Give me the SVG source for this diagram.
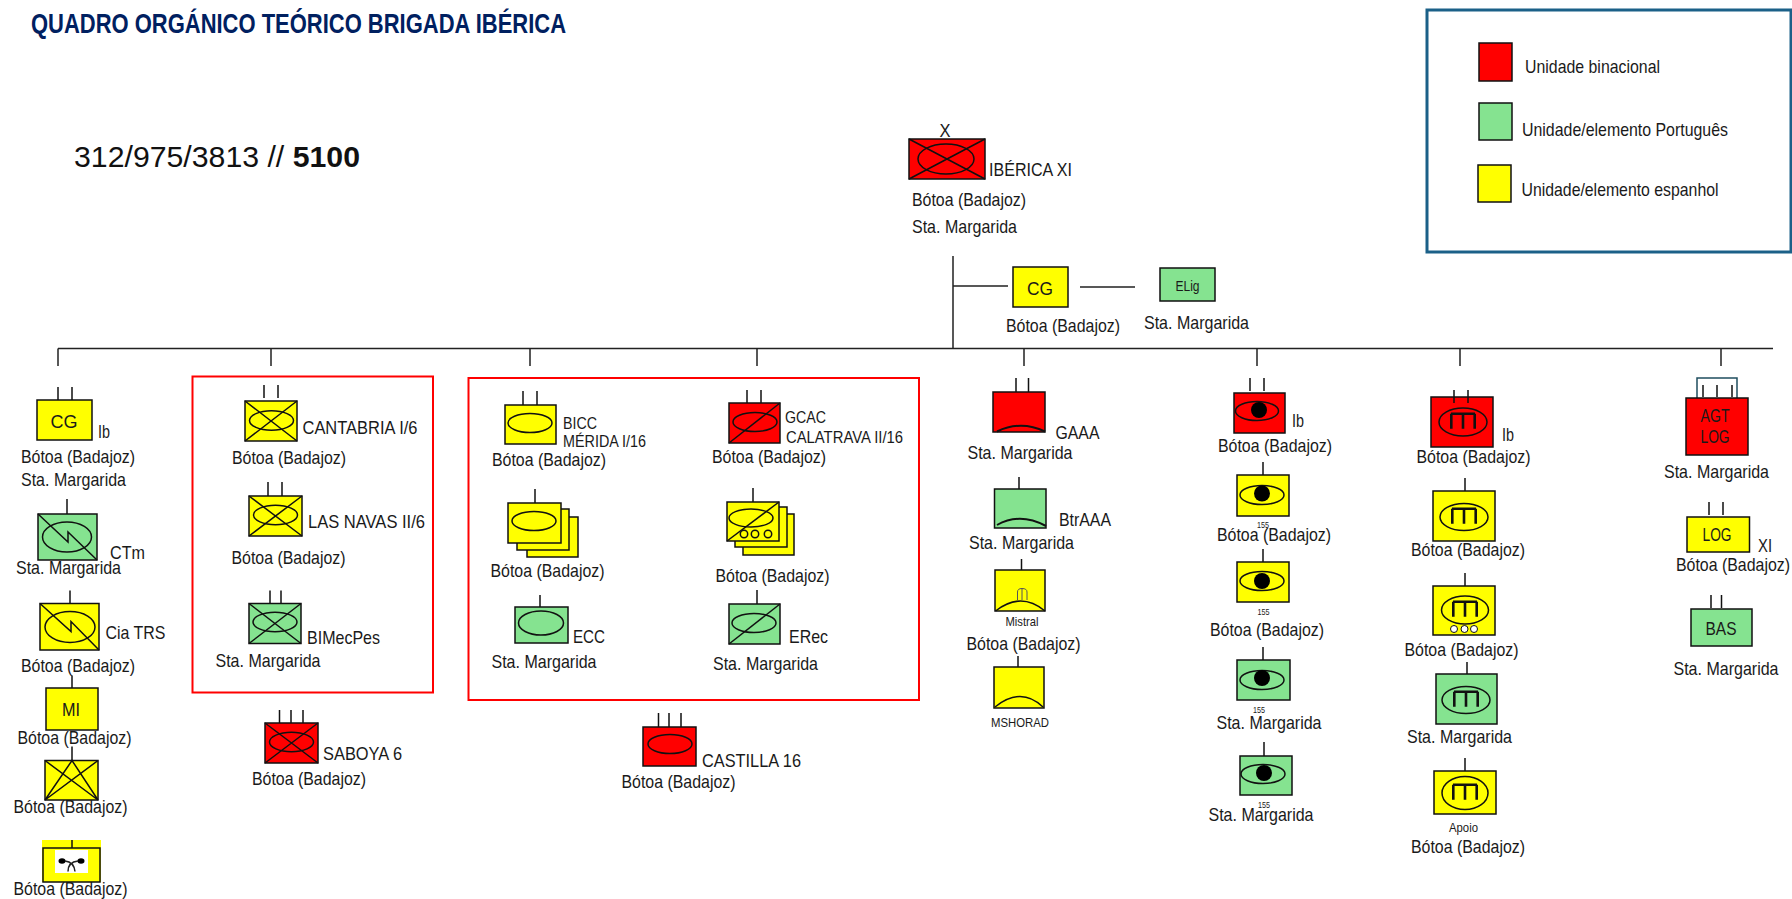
<svg xmlns="http://www.w3.org/2000/svg" width="1792" height="899" viewBox="0 0 1792 899">
<style>
text{font-family:"Liberation Sans",Arial,sans-serif;font-size:18.5px;fill:#1a1a1a}
.y,.g,.r,.e,.t{stroke:#111;stroke-width:1.5}
.y{fill:#ffff00}.g{fill:#85e390}.r{fill:#ff0000}
.e,.t{fill:none}
.c{stroke:#222;stroke-width:1.5;fill:none}
.b{fill:none;stroke:#ff0000;stroke-width:2}
.d{fill:#000}
.m{fill:none;stroke:#111;stroke-width:2.6}
.s{font-size:9px}
.n{text-anchor:middle}
</style>
<defs>
<path id="gun" class="m" d="M-12-8.300H12M-11.700-8.300V6.700M0-8.300V6.700M11.700-8.300V6.700"/>
</defs>
<rect width="1792" height="899" fill="#fff"/>
<text x="31" y="33" textLength="535" lengthAdjust="spacingAndGlyphs" style="font-size:28px;font-weight:700;fill:#002060">QUADRO ORGÁNICO TEÓRICO BRIGADA IBÉRICA</text>
<text x="74" y="167" textLength="286" lengthAdjust="spacingAndGlyphs" style="font-size:29px;fill:#111">312/975/3813 // <tspan font-weight="700">5100</tspan></text>
<g id="legend">
<rect x="1427" y="10" width="364" height="242" fill="#fff" stroke="#1b6088" stroke-width="3"/>
<rect class="r" x="1479" y="43" width="33" height="38"/>
<rect class="g" x="1479" y="103" width="33" height="37"/>
<rect class="y" x="1478" y="165" width="33" height="37"/>
<text x="1525" y="73" textLength="135" lengthAdjust="spacingAndGlyphs">Unidade binacional</text>
<text x="1522" y="136" textLength="206" lengthAdjust="spacingAndGlyphs">Unidade/elemento Português</text>
<text x="1521.500" y="196" textLength="197" lengthAdjust="spacingAndGlyphs">Unidade/elemento espanhol</text>
</g>
<g id="connectors">
<path class="c" d="M58 348.500H1773M953 256V348.500M953 286H1008M1080 287H1135"/>
<path class="c" d="M58 348.500V366M271 348.500V366M530 348.500V366M757 348.500V366M1024 348.500V366M1257 348.500V366M1460 348.500V366M1721 348.500V366"/>
</g>
<rect id="box-cantabria" class="b" x="192.500" y="376.500" width="240.500" height="316"/>
<rect id="box-castilla" class="b" x="468.500" y="378" width="450.500" height="322"/>
<g id="n-iberica">
<text class="n" x="945" y="137" textLength="11" lengthAdjust="spacingAndGlyphs">X</text>
<rect class="r" x="909" y="139" width="76" height="40"/>
<path class="t" d="M909 139L985 179M985 139L909 179"/>
<ellipse class="e" cx="946" cy="159" rx="28" ry="15"/>
<text x="989" y="176" textLength="83" lengthAdjust="spacingAndGlyphs">IBÉRICA XI</text>
<text x="912" y="206" textLength="114" lengthAdjust="spacingAndGlyphs">Bótoa (Badajoz)</text>
<text x="912" y="233" textLength="105" lengthAdjust="spacingAndGlyphs">Sta. Margarida</text>
</g>
<g id="n-cg-top">
<rect class="y" x="1013" y="267" width="55" height="40"/>
<text class="n" x="1040" y="295" textLength="26" lengthAdjust="spacingAndGlyphs">CG</text>
<text x="1006" y="332" textLength="114" lengthAdjust="spacingAndGlyphs">Bótoa (Badajoz)</text>
</g>
<g id="n-elig">
<rect class="g" x="1160" y="268" width="55" height="33"/>
<text x="1175.500" y="291" textLength="24" lengthAdjust="spacingAndGlyphs" style="font-size:14px">ELig</text>
<text x="1144" y="329" textLength="105" lengthAdjust="spacingAndGlyphs">Sta. Margarida</text>
</g>
<g id="n-cg-ib">
<path class="t" d="M58 387V400M72 387V400"/>
<rect class="y" x="37" y="400" width="55" height="40"/>
<text class="n" x="64" y="428" textLength="27" lengthAdjust="spacingAndGlyphs">CG</text>
<text x="98" y="438" textLength="12" lengthAdjust="spacingAndGlyphs">Ib</text>
<text x="21" y="462.500" textLength="114" lengthAdjust="spacingAndGlyphs">Bótoa (Badajoz)</text>
<text x="21" y="486" textLength="105" lengthAdjust="spacingAndGlyphs">Sta. Margarida</text>
</g>
<g id="n-ctm">
<path class="t" d="M67 499V514"/>
<rect class="g" x="38" y="514" width="59" height="46"/>
<ellipse class="e" cx="67" cy="537" rx="24.500" ry="15"/>
<path class="t" d="M38 514L68 542V532L97 560"/>
<text x="110" y="558.500" textLength="35" lengthAdjust="spacingAndGlyphs">CTm</text>
<text x="16" y="574" textLength="105" lengthAdjust="spacingAndGlyphs">Sta. Margarida</text>
</g>
<g id="n-ciatrs">
<path class="t" d="M70 590.500V604.500"/>
<rect class="y" x="40" y="603.500" width="59" height="46.500"/>
<ellipse class="e" cx="70" cy="627" rx="25" ry="15.500"/>
<path class="t" d="M40 603.500L71 631.500V621.500L99 650"/>
<text x="105.500" y="639" textLength="60" lengthAdjust="spacingAndGlyphs">Cia TRS</text>
<text x="21" y="672" textLength="114" lengthAdjust="spacingAndGlyphs">Bótoa (Badajoz)</text>
</g>
<g id="n-mi">
<path class="t" d="M72 675.500V688"/>
<rect class="y" x="46" y="688" width="52" height="42"/>
<text class="n" x="71" y="716" textLength="18" lengthAdjust="spacingAndGlyphs">MI</text>
<text x="17.500" y="744" textLength="114" lengthAdjust="spacingAndGlyphs">Bótoa (Badajoz)</text>
</g>
<g id="n-cross">
<path class="t" d="M72 746.500V760.500"/>
<rect class="y" x="45" y="760.500" width="53" height="39.500"/>
<path class="t" d="M45 760.500L98 800M98 760.500L45 800L72 760.500L98 800"/>
<text x="13.500" y="813" textLength="114" lengthAdjust="spacingAndGlyphs">Bótoa (Badajoz)</text>
</g>
<g id="n-wind">
<rect x="42" y="840" width="59" height="42" fill="#ffff00"/>
<path class="t" d="M72 840V848"/>
<rect class="y" x="43" y="848" width="57" height="34"/>
<rect x="55" y="850" width="33" height="23" fill="#fff"/>
<ellipse class="d" cx="62" cy="861" rx="3.500" ry="2.700"/>
<ellipse class="d" cx="81" cy="861" rx="3.500" ry="2.700"/>
<path class="c" d="M65 861Q74 862 75 871.500M78 861Q68 862 68 871.500"/>
<text x="13.500" y="894.500" textLength="114" lengthAdjust="spacingAndGlyphs">Bótoa (Badajoz)</text>
</g>
<g id="n-cantabria">
<path class="t" d="M264 385V398M278 385V398"/>
<rect class="y" x="245" y="401" width="52" height="40"/>
<path class="t" d="M245 401L297 441M297 401L245 441"/>
<ellipse class="e" cx="271.500" cy="420.500" rx="22" ry="9.700"/>
<text x="302.500" y="434" textLength="115" lengthAdjust="spacingAndGlyphs">CANTABRIA I/6</text>
<text x="232" y="463.500" textLength="114" lengthAdjust="spacingAndGlyphs">Bótoa (Badajoz)</text>
</g>
<g id="n-lasnavas">
<path class="t" d="M268 482V496M282 482V496"/>
<rect class="y" x="249" y="496" width="53" height="40"/>
<path class="t" d="M249 496L302 536M302 496L249 536"/>
<ellipse class="e" cx="275.500" cy="515" rx="22" ry="9.700"/>
<text x="308" y="528" textLength="117" lengthAdjust="spacingAndGlyphs">LAS NAVAS II/6</text>
<text x="231.500" y="564" textLength="114" lengthAdjust="spacingAndGlyphs">Bótoa (Badajoz)</text>
</g>
<g id="n-bimecpes">
<path class="t" d="M270 590.500V603.500M281 590.500V603.500"/>
<rect class="g" x="249" y="603.500" width="52" height="40"/>
<path class="t" d="M249 603.500L301 643.500M301 603.500L249 643.500"/>
<ellipse class="e" cx="275" cy="622" rx="22" ry="9.700"/>
<text x="307" y="644" textLength="73" lengthAdjust="spacingAndGlyphs">BIMecPes</text>
<text x="215.500" y="667" textLength="105" lengthAdjust="spacingAndGlyphs">Sta. Margarida</text>
</g>
<g id="n-saboya">
<path class="t" d="M279.500 710V723M291 710V723M303 710V723"/>
<rect class="r" x="265" y="723" width="53" height="40"/>
<path class="t" d="M265 723L318 763M318 723L265 763"/>
<ellipse class="e" cx="291.500" cy="742" rx="22" ry="9.700"/>
<text x="323" y="760" textLength="79" lengthAdjust="spacingAndGlyphs">SABOYA 6</text>
<text x="252" y="785" textLength="114" lengthAdjust="spacingAndGlyphs">Bótoa (Badajoz)</text>
</g>
<g id="n-bicc">
<path class="t" d="M523 391V405M537 391V405"/>
<rect class="y" x="505" y="405" width="51" height="39"/>
<ellipse class="e" cx="530" cy="423" rx="22" ry="9.500"/>
<text x="563" y="429" textLength="34" lengthAdjust="spacingAndGlyphs" style="font-size:16px">BICC</text>
<text x="563" y="447" textLength="83" lengthAdjust="spacingAndGlyphs" style="font-size:16px">MÉRIDA I/16</text>
<text x="492" y="466" textLength="114" lengthAdjust="spacingAndGlyphs">Bótoa (Badajoz)</text>
</g>
<g id="n-gcac">
<path class="t" d="M747 390V403M761 390V403"/>
<rect class="r" x="729" y="403" width="51" height="40"/>
<path class="t" d="M729 443L780 403"/>
<ellipse class="e" cx="755" cy="422" rx="22" ry="9.500"/>
<text x="785" y="423" textLength="41" lengthAdjust="spacingAndGlyphs" style="font-size:16px">GCAC</text>
<text x="786" y="443" textLength="117" lengthAdjust="spacingAndGlyphs" style="font-size:16px">CALATRAVA II/16</text>
<text x="712" y="463" textLength="114" lengthAdjust="spacingAndGlyphs">Bótoa (Badajoz)</text>
</g>
<g id="n-stack-left">
<path class="t" d="M535 489V503"/>
<rect class="y" x="527" y="517" width="51" height="40"/>
<rect class="y" x="517" y="509" width="52" height="41"/>
<rect class="y" x="508" y="503" width="53" height="40"/>
<ellipse class="e" cx="534" cy="521" rx="22" ry="9.500"/>
<text x="490.500" y="577" textLength="114" lengthAdjust="spacingAndGlyphs">Bótoa (Badajoz)</text>
</g>
<g id="n-stack-right">
<path class="t" d="M753 488V502"/>
<rect class="y" x="743" y="514" width="51" height="41"/>
<rect class="y" x="735" y="507" width="52" height="40"/>
<rect class="y" x="727" y="502" width="52" height="39"/>
<path class="t" d="M727 541L779 502"/>
<ellipse class="e" cx="751" cy="518" rx="22" ry="9"/>
<circle class="e" cx="744" cy="534" r="3.700"/>
<circle class="e" cx="755" cy="534" r="3.700"/>
<circle class="e" cx="768" cy="534" r="3.700"/>
<text x="715.500" y="582" textLength="114" lengthAdjust="spacingAndGlyphs">Bótoa (Badajoz)</text>
</g>
<g id="n-ecc">
<path class="t" d="M540 595V607"/>
<rect class="g" x="515" y="607" width="53" height="36"/>
<ellipse class="e" cx="541" cy="623" rx="22.500" ry="12"/>
<text x="573" y="643" textLength="32" lengthAdjust="spacingAndGlyphs">ECC</text>
<text x="491.500" y="668" textLength="105" lengthAdjust="spacingAndGlyphs">Sta. Margarida</text>
</g>
<g id="n-erec">
<path class="t" d="M757 590V604"/>
<rect class="g" x="729" y="604" width="51" height="40"/>
<path class="t" d="M729 644L780 604"/>
<ellipse class="e" cx="754" cy="623" rx="22" ry="9.500"/>
<text x="789" y="643" textLength="39" lengthAdjust="spacingAndGlyphs">ERec</text>
<text x="713" y="670" textLength="105" lengthAdjust="spacingAndGlyphs">Sta. Margarida</text>
</g>
<g id="n-castilla">
<path class="t" d="M658.500 713V727M669 713V727M681 713V727"/>
<rect class="r" x="643" y="727" width="53" height="39"/>
<ellipse class="e" cx="670" cy="744" rx="22" ry="9.500"/>
<text x="702" y="767" textLength="99" lengthAdjust="spacingAndGlyphs">CASTILLA 16</text>
<text x="621.500" y="788" textLength="114" lengthAdjust="spacingAndGlyphs">Bótoa (Badajoz)</text>
</g>
<g id="n-gaaa">
<path class="t" d="M1016 378V392M1028.500 378V392"/>
<rect class="r" x="993" y="392" width="52" height="40"/>
<path class="t" d="M997 431.500Q1021 420 1045 431.500" style="stroke-width:2"/>
<text x="1055.500" y="439" textLength="44" lengthAdjust="spacingAndGlyphs">GAAA</text>
<text x="967.500" y="459" textLength="105" lengthAdjust="spacingAndGlyphs">Sta. Margarida</text>
</g>
<g id="n-btraaa">
<path class="t" d="M1019 477V489"/>
<rect class="g" x="994.500" y="489" width="51.500" height="39"/>
<path class="t" d="M997 525Q1020 512 1046 526" style="stroke-width:2"/>
<text x="1059" y="526" textLength="52" lengthAdjust="spacingAndGlyphs">BtrAAA</text>
<text x="969" y="549" textLength="105" lengthAdjust="spacingAndGlyphs">Sta. Margarida</text>
</g>
<g id="n-mistral">
<path class="t" d="M1021.500 559V570"/>
<rect class="y" x="995" y="570" width="50" height="41"/>
<path class="t" d="M995.500 611Q1021 591 1045 611"/>
<path d="M1017.500 600V592Q1017.500 588.500 1022 588.500Q1027 588.500 1027 592V600M1022 588.500V600" fill="none" stroke="#555" stroke-width="1"/>
<text x="1005.500" y="626" textLength="33" lengthAdjust="spacingAndGlyphs" style="font-size:13px">Mistral</text>
<text x="966.500" y="650" textLength="114" lengthAdjust="spacingAndGlyphs">Bótoa (Badajoz)</text>
</g>
<g id="n-mshorad">
<path class="t" d="M1018 656V667"/>
<rect class="y" x="994" y="667" width="50" height="41"/>
<path class="t" d="M995 707Q1021 686 1043 707"/>
<text x="991" y="727" textLength="58" lengthAdjust="spacingAndGlyphs" style="font-size:13px">MSHORAD</text>
</g>
<g id="n-eye1">
<path class="t" d="M1250 378V391M1264 378V391"/>
<rect class="r" x="1234" y="393" width="51" height="40"/>
<ellipse class="e" cx="1257" cy="411" rx="21.500" ry="9.500"/>
<circle class="d" cx="1259" cy="410" r="8"/>
<text x="1292" y="427" textLength="12" lengthAdjust="spacingAndGlyphs">Ib</text>
<text x="1218" y="452" textLength="114" lengthAdjust="spacingAndGlyphs">Bótoa (Badajoz)</text>
</g>
<g id="n-eye2">
<path class="t" d="M1263 462V475"/>
<rect class="y" x="1237" y="475" width="52" height="41"/>
<ellipse class="e" cx="1262" cy="495" rx="22" ry="9.500"/>
<circle class="d" cx="1262" cy="493.500" r="8"/>
<text class="s" x="1257" y="528" textLength="12" lengthAdjust="spacingAndGlyphs">155</text>
<text x="1217" y="541" textLength="114" lengthAdjust="spacingAndGlyphs">Bótoa (Badajoz)</text>
</g>
<g id="n-eye3">
<path class="t" d="M1263 549V562"/>
<rect class="y" x="1237" y="562" width="52" height="40"/>
<ellipse class="e" cx="1262" cy="581" rx="22" ry="9.500"/>
<circle class="d" cx="1262" cy="581" r="8"/>
<text class="s" x="1257.500" y="615" textLength="12" lengthAdjust="spacingAndGlyphs">155</text>
<text x="1210" y="636" textLength="114" lengthAdjust="spacingAndGlyphs">Bótoa (Badajoz)</text>
</g>
<g id="n-eye4">
<path class="t" d="M1263 647V660"/>
<rect class="g" x="1237" y="660" width="53" height="40"/>
<ellipse class="e" cx="1262" cy="680" rx="22" ry="9.500"/>
<circle class="d" cx="1262" cy="678" r="8"/>
<text class="s" x="1253" y="713" textLength="12" lengthAdjust="spacingAndGlyphs">155</text>
<text x="1216.500" y="729" textLength="105" lengthAdjust="spacingAndGlyphs">Sta. Margarida</text>
</g>
<g id="n-eye5">
<path class="t" d="M1264 742V756"/>
<rect class="g" x="1240" y="756" width="52" height="39"/>
<ellipse class="e" cx="1263" cy="774" rx="22" ry="9.500"/>
<circle class="d" cx="1264" cy="773" r="8"/>
<text class="s" x="1258" y="808" textLength="12" lengthAdjust="spacingAndGlyphs">155</text>
<text x="1208.500" y="821" textLength="105" lengthAdjust="spacingAndGlyphs">Sta. Margarida</text>
</g>
<g id="n-m1">
<rect class="r" x="1431" y="397" width="62" height="50"/>
<path class="t" d="M1454 390V403M1468 390V403"/>
<ellipse class="e" cx="1463" cy="422" rx="24" ry="14"/>
<use href="#gun" x="1463" y="422"/>
<text x="1502" y="441" textLength="12" lengthAdjust="spacingAndGlyphs">Ib</text>
<text x="1416.500" y="463" textLength="114" lengthAdjust="spacingAndGlyphs">Bótoa (Badajoz)</text>
</g>
<g id="n-m2">
<path class="t" d="M1465 478V491"/>
<rect class="y" x="1433" y="491" width="62" height="50"/>
<ellipse class="e" cx="1464" cy="517" rx="24" ry="13.500"/>
<use href="#gun" x="1464" y="517"/>
<text x="1411" y="556" textLength="114" lengthAdjust="spacingAndGlyphs">Bótoa (Badajoz)</text>
</g>
<g id="n-m3">
<path class="t" d="M1465 573V586"/>
<rect class="y" x="1433" y="586" width="62" height="49"/>
<ellipse class="e" cx="1465" cy="610" rx="23.500" ry="14"/>
<use href="#gun" x="1465" y="610"/>
<circle cx="1454" cy="629" r="3.500" fill="#fff" stroke="#111"/>
<circle cx="1464.500" cy="629" r="3.500" fill="#fff" stroke="#111"/>
<circle cx="1474" cy="629" r="3.500" fill="#fff" stroke="#111"/>
<text x="1404.500" y="656" textLength="114" lengthAdjust="spacingAndGlyphs">Bótoa (Badajoz)</text>
</g>
<g id="n-m4">
<path class="t" d="M1467 662V674"/>
<rect class="g" x="1436" y="674" width="61" height="50"/>
<ellipse class="e" cx="1466" cy="700" rx="24" ry="13.500"/>
<use href="#gun" x="1466" y="700"/>
<text x="1407" y="743" textLength="105" lengthAdjust="spacingAndGlyphs">Sta. Margarida</text>
</g>
<g id="n-m5">
<path class="t" d="M1465 758V771"/>
<rect class="y" x="1434" y="771" width="62" height="43"/>
<ellipse class="e" cx="1465" cy="793" rx="23" ry="16.500"/>
<use href="#gun" x="1465" y="793"/>
<text x="1449" y="832" textLength="29" lengthAdjust="spacingAndGlyphs" style="font-size:13px">Apoio</text>
<text x="1411" y="853" textLength="114" lengthAdjust="spacingAndGlyphs">Bótoa (Badajoz)</text>
</g>
<g id="n-agtlog">
<path d="M1697 398V378H1737V398" fill="none" stroke="#1f4e5f" stroke-width="1.500"/>
<path class="t" d="M1703 385V397M1717 385V397M1732 385V397"/>
<rect class="r" x="1686" y="398" width="62" height="57"/>
<text class="n" x="1715" y="422" textLength="29" lengthAdjust="spacingAndGlyphs">AGT</text>
<text class="n" x="1715" y="443" textLength="29" lengthAdjust="spacingAndGlyphs">LOG</text>
<text x="1664" y="478" textLength="105" lengthAdjust="spacingAndGlyphs">Sta. Margarida</text>
</g>
<g id="n-log">
<path class="t" d="M1709 502V515M1723 502V515"/>
<rect class="y" x="1687" y="517" width="62.500" height="35"/>
<text class="n" x="1717" y="541" textLength="29" lengthAdjust="spacingAndGlyphs">LOG</text>
<text x="1758" y="552" textLength="14" lengthAdjust="spacingAndGlyphs">XI</text>
<text x="1676" y="571" textLength="114" lengthAdjust="spacingAndGlyphs">Bótoa (Badajoz)</text>
</g>
<g id="n-bas">
<path class="t" d="M1711 595V608M1721.500 595V608"/>
<rect class="g" x="1691" y="609" width="61" height="37"/>
<text class="n" x="1721" y="635" textLength="31" lengthAdjust="spacingAndGlyphs">BAS</text>
<text x="1673.500" y="675" textLength="105" lengthAdjust="spacingAndGlyphs">Sta. Margarida</text>
</g>
</svg>
